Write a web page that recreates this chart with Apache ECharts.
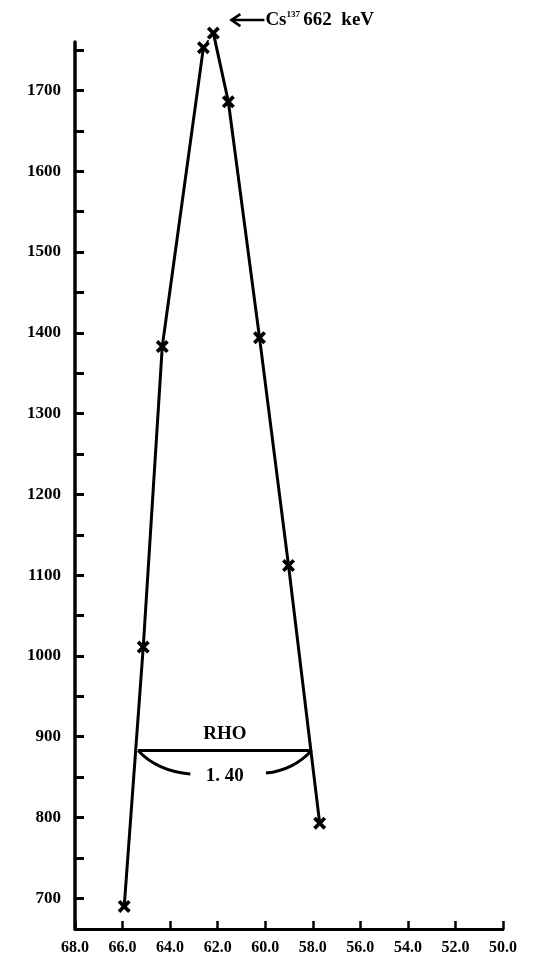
<!DOCTYPE html>
<html>
<head>
<meta charset="utf-8">
<script src="https://cdn.jsdelivr.net/npm/echarts@6/dist/echarts.min.js"></script>
<style>html,body{margin:0;padding:0;background:#fff}#c{width:540px;height:957px}</style>
</head>
<body>
<div id="c"></div>
<script>
// Channel (x, decreasing to the right) and counts (y)
var leftX = [65.93, 65.13, 64.33, 62.60];
var leftY = [690, 1011, 1383, 1753];
var rightX = [62.18, 61.55, 60.24, 59.02, 57.71];
var rightY = [1771, 1686, 1394, 1112, 793];
var xTicks = [68, 66, 64, 62, 60, 58, 56, 54, 52, 50];
var yTicks = [700, 800, 900, 1000, 1100, 1200, 1300, 1400, 1500, 1600, 1700];
var yTickMarks = [700, 750, 800, 850, 900, 950, 1000, 1050, 1100, 1150, 1200, 1250,
  1300, 1350, 1400, 1450, 1500, 1550, 1600, 1650, 1700, 1750];
var rhoX = [65.35, 58.05];
var rhoY = 883;
var arcLeftX = [65.35, 64.4, 63.15];
var arcLeftY = [883, 863, 854];
var arcRightX = [59.97, 58.9, 58.05];
var arcRightY = [855, 864, 883];
var rhoLabel = 'RHO';
var widthLabel = '1. 40';
var peakLabel = '662  keV';

var F = 'Liberation Serif';
function pairs(xs, ys) { return xs.map(function (x, i) { return [x, ys[i]]; }); }
var cross = 'path://M0,2L2,0L5,3L8,0L10,2L7,5L10,8L8,10L5,7L2,10L0,8L3,5Z';

var chart = echarts.init(document.getElementById('c'));
var lineStyle = { color: '#000', width: 3 };
chart.setOption({
  animation: false,
  backgroundColor: '#fff',
  grid: { left: 75, right: 37, top: 42, bottom: 28 },
  xAxis: {
    type: 'value', min: 50, max: 68, interval: 2, inverse: true,
    axisLine: { lineStyle: { color: '#000', width: 3 } },
    axisTick: { inside: true, length: 8, lineStyle: { color: '#000', width: 2.5 } },
    splitLine: { show: false },
    axisLabel: { color: '#000', fontFamily: F, fontWeight: 'bold', fontSize: 16, margin: 11,
      formatter: function (v) { return xTicks.indexOf(v) >= 0 ? v.toFixed(1) : ''; } }
  },
  yAxis: {
    type: 'value', min: 662, max: 1760,
    axisLine: { show: true, lineStyle: { color: '#000', width: 3.5 } },
    axisTick: { show: true, inside: true, length: 9, customValues: yTickMarks,
      lineStyle: { color: '#000', width: 3 } },
    splitLine: { show: false },
    axisLabel: { color: '#000', fontFamily: F, fontWeight: 'bold', fontSize: 17, margin: 14,
      customValues: yTicks, formatter: function (v) { return String(v); } }
  },
  series: [
    { type: 'line', data: pairs(leftX, leftY), symbol: cross, symbolSize: 13, clip: false,
      itemStyle: { color: '#000' }, lineStyle: lineStyle },
    { type: 'line', data: pairs(rightX, rightY), symbol: cross, symbolSize: 13, clip: false,
      itemStyle: { color: '#000' }, lineStyle: lineStyle },
    { type: 'line', data: [[leftX[3], leftY[3]], [rightX[0], rightY[0]]], symbol: 'none', clip: false,
      lineStyle: { color: '#000', width: 2, type: [3, 3] } },
    { type: 'line', data: pairs(rhoX, [rhoY, rhoY]), symbol: 'none',
      lineStyle: { color: '#000', width: 3 } },
    { type: 'line', data: pairs(arcLeftX, arcLeftY), symbol: 'none', smooth: true,
      lineStyle: { color: '#000', width: 3 } },
    { type: 'line', data: pairs(arcRightX, arcRightY), symbol: 'none', smooth: true,
      lineStyle: { color: '#000', width: 3 } }
  ]
});

// annotations placed through the axes
var midX = (rhoX[0] + rhoX[1]) / 2;
var pR = chart.convertToPixel({ gridIndex: 0 }, [midX, rhoY]);
var p0 = chart.convertToPixel({ gridIndex: 0 }, [rightX[0], rightY[0]]);
var ay = p0[1] - 13;
var ax0 = p0[0] + 18, ax1 = ax0 + 33;
chart.setOption({
  graphic: [
    { type: 'text', x: pR[0], y: pR[1] - 16, style: { text: rhoLabel, fill: '#000',
      font: 'bold 19px "' + F + '"', align: 'center', verticalAlign: 'middle' } },
    { type: 'text', x: pR[0], y: pR[1] + 26, style: { text: widthLabel, fill: '#000',
      font: 'bold 19px "' + F + '"', align: 'center', verticalAlign: 'middle' } },
    { type: 'line', shape: { x1: ax0, y1: ay, x2: ax1, y2: ay }, style: { stroke: '#000', lineWidth: 2.5 } },
    { type: 'polyline', shape: { points: [[ax0 + 9, ay - 6], [ax0, ay], [ax0 + 9, ay + 6]] },
      style: { stroke: '#000', lineWidth: 2.5, fill: null } },
    { type: 'text', x: ax1 + 1, y: ay, style: {
      text: '{b|Cs}{s|137} {b|' + peakLabel + '}',
      verticalAlign: 'middle',
      rich: {
        b: { font: 'bold 19px "' + F + '"', fill: '#000' },
        s: { font: 'bold 9px "' + F + '"', fill: '#000', verticalAlign: 'top', padding: [0, 0, 9, 0] }
      } } }
  ]
});
</script>
</body>
</html>
